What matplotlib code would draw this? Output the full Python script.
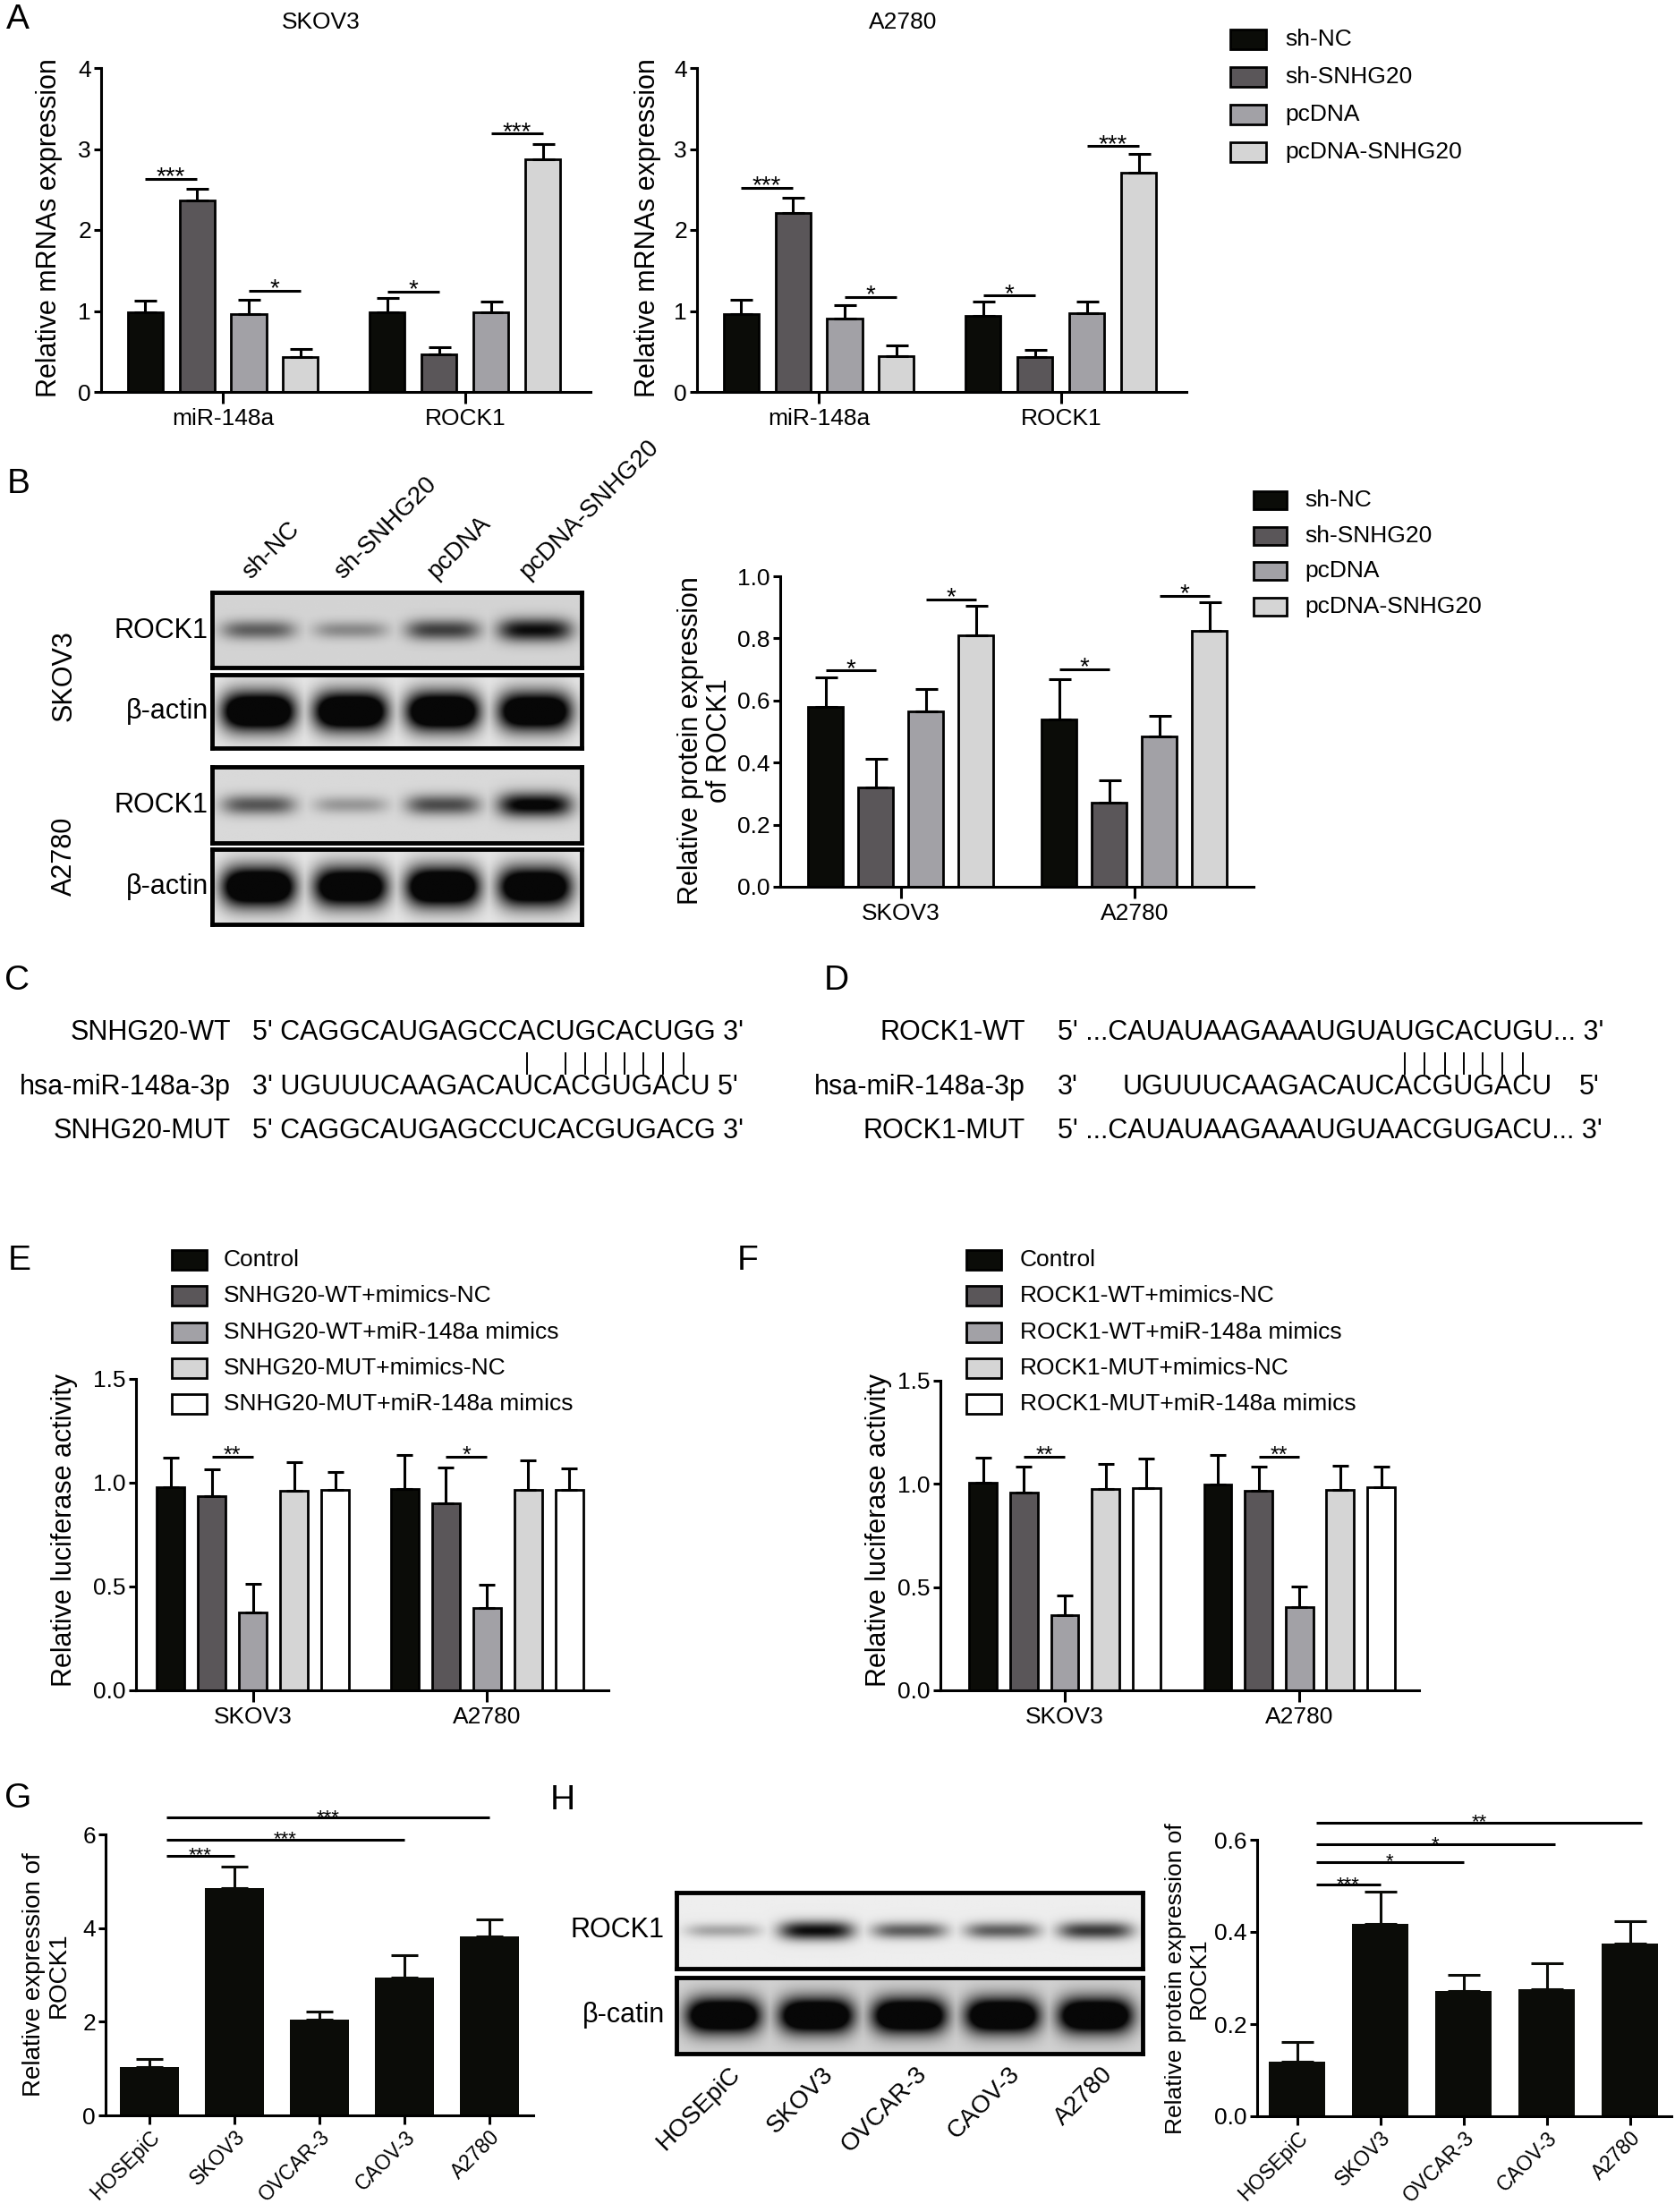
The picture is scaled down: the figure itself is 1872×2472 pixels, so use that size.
import numpy as np
import matplotlib
matplotlib.use("Agg")
import matplotlib.pyplot as plt
from matplotlib.patches import Rectangle
from matplotlib.lines import Line2D
from matplotlib.font_manager import FontProperties

plt.rcParams['font.family'] = ['Liberation Sans', 'DejaVu Sans']

W, H = 1872, 2472

# ---------------- data ----------------
mrna_groups = ['miR-148a', 'ROCK1']
sh_series = ['sh-NC', 'sh-SNHG20', 'pcDNA', 'pcDNA-SNHG20']
sh_colors = ['#0b0c08', '#5a5659', '#a2a1a6', '#d5d5d5']

skov3_mrna = [[0.98, 2.36, 0.96, 0.43], [0.98, 0.46, 0.98, 2.87]]
skov3_mrna_sd = [[0.15, 0.15, 0.18, 0.10], [0.18, 0.09, 0.14, 0.19]]
skov3_mrna_sig = [(0, 0, 1, 2.63, '***'), (0, 2, 3, 1.25, '*'),
                  (1, 0, 1, 1.24, '*'), (1, 2, 3, 3.19, '***')]

a2780_mrna = [[0.96, 2.21, 0.91, 0.44], [0.94, 0.43, 0.975, 2.71]]
a2780_mrna_sd = [[0.18, 0.19, 0.165, 0.13], [0.175, 0.085, 0.14, 0.23]]
a2780_mrna_sig = [(0, 0, 1, 2.52, '***'), (0, 2, 3, 1.17, '*'),
                  (1, 0, 1, 1.19, '*'), (1, 2, 3, 3.035, '***')]

cell_groups = ['SKOV3', 'A2780']
rock1_prot = [[0.58, 0.32, 0.565, 0.81], [0.54, 0.27, 0.485, 0.823]]
rock1_prot_sd = [[0.094, 0.092, 0.073, 0.095], [0.13, 0.074, 0.064, 0.092]]
rock1_prot_sig = [(0, 0, 1, 0.696, '*'), (0, 2, 3, 0.926, '*'),
                  (1, 0, 1, 0.70, '*'), (1, 2, 3, 0.937, '*')]

# western blot band strength per lane (>1 means saturated)
wb_skov3_rock1 = [0.55, 0.35, 0.7, 0.95]
wb_skov3_actin = [1.6, 1.6, 1.6, 1.5]
wb_a2780_rock1 = [0.6, 0.3, 0.65, 1.05]
wb_a2780_actin = [1.6, 1.5, 1.6, 1.5]

luc_colors = ['#0b0c08', '#5a5659', '#a2a1a6', '#d5d5d5', '#ffffff']
luc_series_e = ['Control', 'SNHG20-WT+mimics-NC', 'SNHG20-WT+miR-148a mimics',
                'SNHG20-MUT+mimics-NC', 'SNHG20-MUT+miR-148a mimics']
luc_e = [[0.98, 0.935, 0.377, 0.963, 0.966], [0.968, 0.903, 0.395, 0.965, 0.965]]
luc_e_sd = [[0.14, 0.128, 0.136, 0.138, 0.084], [0.167, 0.169, 0.113, 0.143, 0.104]]
luc_e_sig = [(0, 1, 2, 1.125, '**'), (1, 1, 2, 1.125, '*')]

luc_series_f = ['Control', 'ROCK1-WT+mimics-NC', 'ROCK1-WT+miR-148a mimics',
                'ROCK1-MUT+mimics-NC', 'ROCK1-MUT+miR-148a mimics']
luc_f = [[1.005, 0.96, 0.362, 0.977, 0.979], [0.996, 0.965, 0.405, 0.969, 0.986]]
luc_f_sd = [[0.123, 0.123, 0.098, 0.118, 0.143], [0.145, 0.12, 0.097, 0.121, 0.099]]
luc_f_sig = [(0, 1, 2, 1.131, '**'), (1, 1, 2, 1.131, '**')]

cell_lines = ['HOSEpiC', 'SKOV3', 'OVCAR-3', 'CAOV-3', 'A2780']
rock1_mrna_cells = [1.03, 4.85, 2.05, 2.94, 3.82]
rock1_mrna_cells_sd = [0.166, 0.47, 0.17, 0.48, 0.37]
rock1_mrna_cells_sig = [(1.0, 5.55, '***'), (3.0, 5.89, '***'), (4.0, 6.36, '***')]

rock1_prot_cells = [0.118, 0.417, 0.271, 0.275, 0.375]
rock1_prot_cells_sd = [0.043, 0.07, 0.035, 0.057, 0.049]
rock1_prot_cells_sig = [(1.0, 0.502, '***'), (2.0, 0.552, '*'),
                        (3.1, 0.590, '*'), (4.15, 0.637, '**')]

wb_cells_rock1 = [0.3, 0.95, 0.6, 0.6, 0.75]
wb_cells_actin = [1.6, 1.6, 1.6, 1.6, 1.6]

seq_snhg20_wt = "CAGGCAUGAGCCACUGCACUGG"
seq_mir148a = "UGUUUCAAGACAUCACGUGACU"
seq_snhg20_mut = "CAGGCAUGAGCCUCACGUGACG"
pairs_snhg20 = [12, 14, 15, 16, 17, 18, 19, 20]
seq_rock1_wt = "CAUAUAAGAAAUGUAUGCACUGU"
seq_rock1_mut = "CAUAUAAGAAAUGUAACGUGACU"
pairs_rock1 = [15, 16, 17, 18, 19, 20, 21]

# ---------------- helpers ----------------
fig = plt.figure(figsize=(W / 100, H / 100), dpi=100)


def fax(x0, y0, x1, y1):
    return fig.add_axes([x0 / W, 1 - y1 / H, (x1 - x0) / W, (y1 - y0) / H])


def ftext(x, y, s, **kw):
    return fig.text(x / W, 1 - y / H, s, **kw)


def bar_x(g, k, n, step):
    return g + (k - (n - 1) / 2) * step


def grouped_bars(ax, means, sds, colors, step, width, capsize):
    n = len(colors)
    g = np.arange(len(means))
    for k in range(n):
        x = g + (k - (n - 1) / 2) * step
        v = [m[k] for m in means]
        e = [s[k] for s in sds]
        ax.bar(x, v, width, color=colors[k], edgecolor='black', linewidth=2, zorder=2)
        ax.errorbar(x, v, yerr=[np.zeros(len(e)), e], fmt='none', ecolor='black',
                    elinewidth=2.2, capsize=capsize, capthick=2.2, zorder=3)


def style(ax, xlim, ylim, yticks, ytl, xticks, xtl, rot=0, xsize=19, xlen=9, xpad=4):
    ax.set_xlim(xlim)
    ax.set_ylim(ylim)
    ax.set_yticks(yticks)
    ax.set_yticklabels(ytl)
    ax.set_xticks(xticks)
    if rot:
        ax.set_xticklabels(xtl, rotation=rot, ha='right', rotation_mode='anchor')
    else:
        ax.set_xticklabels(xtl)
    ax.spines[['top', 'right']].set_visible(False)
    for s in ('left', 'bottom'):
        ax.spines[s].set_linewidth(2.2)
    ax.tick_params(axis='y', width=2.2, length=6, labelsize=19, pad=2)
    ax.tick_params(axis='x', width=2.2, length=xlen, labelsize=xsize, pad=xpad)


def sig(ax, x1, x2, y, lab, size):
    ax.plot([x1, x2], [y, y], color='black', lw=2.2, solid_capstyle='butt',
            clip_on=False, zorder=4)
    ax.annotate(lab, ((x1 + x2) / 2, y), xytext=(0, -4), textcoords='offset points',
                ha='center', va='baseline', fontsize=size, annotation_clip=False)


def legend(xbox, y0, dy, labels, colors, bw, bh, xtext, size=19):
    for i, (lab, c) in enumerate(zip(labels, colors)):
        y = y0 + i * dy
        fig.add_artist(Rectangle((xbox / W, 1 - (y + bh / 2) / H), bw / W, bh / H,
                                 transform=fig.transFigure, facecolor=c,
                                 edgecolor='black', linewidth=2))
        ftext(xtext, y, lab, ha='left', va='center', fontsize=size)


def blot(x0, y0, x1, y1, bands, bg, thick=0.15, lane_w=0.8):
    ax = fax(x0, y0, x1, y1)
    n = len(bands)
    X, Y = np.meshgrid(np.linspace(0, n, 80 * n), np.linspace(0, 1, 80))
    dark = np.zeros_like(X)
    for i, d in enumerate(bands):
        sx = np.exp(-np.abs((X - i - 0.5) / (lane_w / 2)) ** 4)
        sy = thick * (0.6 + 0.4 * min(d, 1.2))
        sh = np.exp(-((Y - 0.5) / sy) ** 2)
        dark = np.maximum(dark, d * sx * sh)
    img = np.clip(bg * (1 - dark), 0.03, 1)
    ax.imshow(img, cmap='gray', vmin=0, vmax=1, extent=(0, n, 0, 1),
              aspect='auto', interpolation='bilinear')
    ax.set_xticks([])
    ax.set_yticks([])
    for s in ax.spines.values():
        s.set_linewidth(3.5)
    return ax


# ---------------- panel A ----------------
for (x0, x1, means, sds, sigs, title, tx, ylx) in [
        (113, 660, skov3_mrna, skov3_mrna_sd, skov3_mrna_sig, 'SKOV3', 0.45, 55),
        (779, 1326, a2780_mrna, a2780_mrna_sd, a2780_mrna_sig, 'A2780', 0.42, 724)]:
    ax = fax(x0, 76, x1, 438)
    grouped_bars(ax, means, sds, sh_colors, 0.214, 0.144, 9)
    style(ax, (-0.502, 1.517), (0, 4), range(5), [str(i) for i in range(5)],
          [0, 1], mrna_groups)
    for g, i, j, y, lab in sigs:
        sig(ax, bar_x(g, i, 4, 0.214), bar_x(g, j, 4, 0.214), y, lab, 20)
    ax.text(tx, 1.141, title, transform=ax.transAxes, ha='center', va='center',
            fontsize=19)
    ftext(ylx, 255, 'Relative mRNAs expression', rotation=90, ha='center',
          va='center', fontsize=22)
legend(1375, 44, 42, sh_series, sh_colors, 40, 22, 1436)

# ---------------- panel B ----------------
blot(237, 662, 650, 746, wb_skov3_rock1, bg=0.83, thick=0.16)
blot(237, 754, 650, 836, wb_skov3_actin, bg=0.9, thick=0.25)
blot(237, 857, 650, 942, wb_a2780_rock1, bg=0.85, thick=0.16)
blot(237, 949, 650, 1033, wb_a2780_actin, bg=0.9, thick=0.25)
for i, lab in enumerate(sh_series):
    ftext(237 + (i + 0.5) * 413 / 4 - 4, 652, lab, rotation=45, ha='left',
          va='bottom', rotation_mode='anchor', fontsize=20)
for y, lab in [(705, 'ROCK1'), (795, 'β-actin'), (900, 'ROCK1'), (991, 'β-actin')]:
    ftext(233, y, lab, ha='right', va='center', fontsize=22)
ftext(72, 755, 'SKOV3', rotation=90, ha='center', va='center', fontsize=22)
ftext(72, 957, 'A2780', rotation=90, ha='center', va='center', fontsize=22)

axB = fax(872, 644, 1401, 991)
grouped_bars(axB, rock1_prot, rock1_prot_sd, sh_colors, 0.2146, 0.149, 9)
style(axB, (-0.517, 1.51), (0, 1), np.arange(0, 1.01, 0.2),
      ['0.0', '0.2', '0.4', '0.6', '0.8', '1.0'], [0, 1], cell_groups)
for g, i, j, y, lab in rock1_prot_sig:
    sig(axB, bar_x(g, i, 4, 0.2146), bar_x(g, j, 4, 0.2146), y, lab, 20)
ftext(788, 828, 'Relative protein expression\nof ROCK1', rotation=90, ha='center',
      va='center', fontsize=22, linespacing=1.1)
legend(1401, 559, 39.7, sh_series, sh_colors, 37, 20, 1458)

# ---------------- panels C / D ----------------
seq_size = 22
prop = FontProperties(family=['Liberation Sans', 'DejaVu Sans'], size=seq_size)
renderer = fig.canvas.get_renderer()


def tw(s):
    return renderer.get_text_width_height_descent(s, prop, ismath=False)[0]


def char_center(x0, s, k):
    return x0 + tw(s[:k + 1]) - tw(s[k]) / 2


def pair_line(x):
    fig.add_artist(Line2D([x / W, x / W], [1 - 1177 / H, 1 - 1200 / H],
                          transform=fig.transFigure, color='black', lw=1.4))


rows = [1154, 1215, 1264]
c_lines = ["5' " + seq_snhg20_wt + " 3'", "3' " + seq_mir148a + " 5'",
           "5' " + seq_snhg20_mut + " 3'"]
for y, lab, s in zip(rows, ['SNHG20-WT', 'hsa-miR-148a-3p', 'SNHG20-MUT'], c_lines):
    ftext(258, y, lab, ha='right', va='center', fontsize=seq_size)
    ftext(282, y, s, ha='left', va='center', fontsize=seq_size)
for k in pairs_snhg20:
    pair_line(char_center(282, c_lines[0], k + 3))

d_wt = "5' ..." + seq_rock1_wt + "... 3'"
d_mut = "5' ..." + seq_rock1_mut + "... 3'"
for y, lab in zip(rows, ['ROCK1-WT', 'hsa-miR-148a-3p', 'ROCK1-MUT']):
    ftext(1146, y, lab, ha='right', va='center', fontsize=seq_size)
ftext(1182, rows[0], d_wt, ha='left', va='center', fontsize=seq_size)
ftext(1182, rows[2], d_mut, ha='left', va='center', fontsize=seq_size)
for k in pairs_rock1:
    pair_line(char_center(1182, d_wt, k + 6))
x_mir = char_center(1182, d_wt, pairs_rock1[0] + 6) - (tw(seq_mir148a[:15]) - tw(seq_mir148a[14]) / 2)
ftext(1182, rows[1], "3'", ha='left', va='center', fontsize=seq_size)
ftext(x_mir, rows[1], seq_mir148a, ha='left', va='center', fontsize=seq_size)
ftext(x_mir + tw(seq_mir148a) + 30, rows[1], "5'", ha='left', va='center',
      fontsize=seq_size)

# ---------------- panels E / F ----------------
for (x0, x1, y0, means, sds, sigs, names, step, width, xlim, lgx, lgt, ylx) in [
        (152, 680, 1541, luc_e, luc_e_sd, luc_e_sig, luc_series_e, 0.176, 0.119,
         (-0.5, 1.52), 192, 250, 72),
        (1051, 1586, 1543, luc_f, luc_f_sd, luc_f_sig, luc_series_f, 0.174, 0.118,
         (-0.53, 1.51), 1080, 1140, 982)]:
    ax = fax(x0, y0, x1, 1889)
    grouped_bars(ax, means, sds, luc_colors, step, width, 6.5)
    style(ax, xlim, (0, 1.5), [0, 0.5, 1.0, 1.5], ['0.0', '0.5', '1.0', '1.5'],
          [0, 1], cell_groups)
    for g, i, j, y, lab in sigs:
        sig(ax, bar_x(g, i, 5, step), bar_x(g, j, 5, step), y, lab, 18)
    ftext(ylx, 1710, 'Relative luciferase activity', rotation=90, ha='center',
          va='center', fontsize=22)
    legend(lgx, 1408, 40.3, names, luc_colors, 39, 22, lgt)

# ---------------- panel G ----------------
axG = fax(118, 2050, 596, 2364)
xg = np.arange(len(cell_lines))
axG.bar(xg, rock1_mrna_cells, 0.685, color='#0b0c08', zorder=2)
axG.errorbar(xg, rock1_mrna_cells, yerr=[np.zeros(5), rock1_mrna_cells_sd], fmt='none',
             ecolor='#0b0c08', elinewidth=2.2, capsize=11, capthick=2.2, zorder=3)
style(axG, (-0.516, 4.516), (0, 6), [0, 2, 4, 6], ['0', '2', '4', '6'], xg,
      cell_lines, rot=45, xsize=16.5, xlen=7, xpad=2)
for end, y, lab in rock1_mrna_cells_sig:
    sig(axG, 0.2, end, y, lab, 16)
ftext(52, 2207, 'Relative expression of\nROCK1', rotation=90, ha='center',
      va='center', fontsize=20, linespacing=1.1)

# ---------------- panel H ----------------
blot(756, 2115, 1277, 2200, wb_cells_rock1, bg=0.93, thick=0.13)
blot(756, 2210, 1277, 2295, wb_cells_actin, bg=0.82, thick=0.22)
ftext(743, 2157, 'ROCK1', ha='right', va='center', fontsize=22)
ftext(743, 2252, 'β-catin', ha='right', va='center', fontsize=22)
for i, lab in enumerate(cell_lines):
    ftext(756 + (i + 0.5) * 521 / 5 + 6, 2305, lab, rotation=45, ha='right', va='top',
          rotation_mode='anchor', fontsize=20)

axH = fax(1405, 2056, 1868, 2365)
axH.bar(xg, rock1_prot_cells, 0.683, color='#0b0c08', zorder=2)
axH.errorbar(xg, rock1_prot_cells, yerr=[np.zeros(5), rock1_prot_cells_sd], fmt='none',
             ecolor='#0b0c08', elinewidth=2.2, capsize=13, capthick=2.2, zorder=3)
style(axH, (-0.48, 4.5), (0, 0.6), [0, 0.2, 0.4, 0.6], ['0.0', '0.2', '0.4', '0.6'],
      xg, cell_lines, rot=45, xsize=16.5, xlen=7, xpad=2)
for end, y, lab in rock1_prot_cells_sig:
    sig(axH, 0.23, end, y, lab, 16)
ftext(1327, 2211, 'Relative protein expression of\nROCK1', rotation=90, ha='center',
      va='center', fontsize=19, linespacing=1.1)

# ---------------- panel letters ----------------
for lab, x, y in [('A', 20, 22), ('B', 21, 541), ('C', 19, 1096), ('D', 935, 1096),
                  ('E', 22, 1409), ('F', 836, 1409), ('G', 20, 2010), ('H', 629, 2012)]:
    ftext(x, y, lab, ha='center', va='center', fontsize=28)

fig.savefig('out.png', dpi=100)
